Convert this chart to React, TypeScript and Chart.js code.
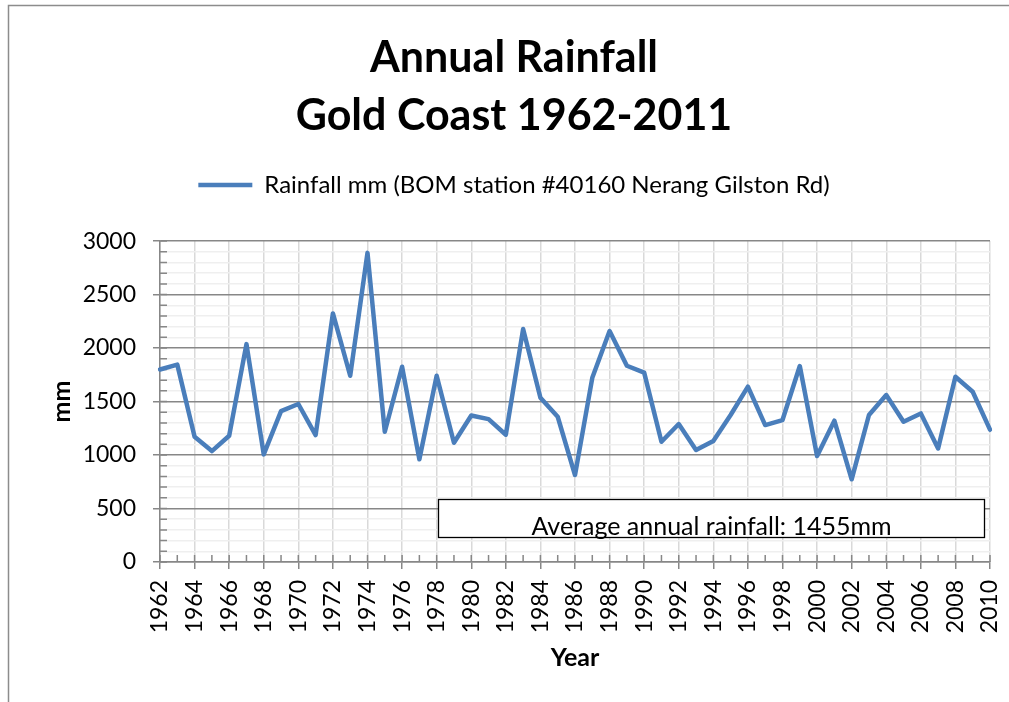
import React, { useEffect, useRef } from 'react';
import { Chart, registerables } from 'chart.js';

Chart.register(...registerables);

const years = [
  '1962', '1963', '1964', '1965', '1966', '1967', '1968', '1969', '1970', '1971',
  '1972', '1973', '1974', '1975', '1976', '1977', '1978', '1979', '1980', '1981',
  '1982', '1983', '1984', '1985', '1986', '1987', '1988', '1989', '1990', '1991',
  '1992', '1993', '1994', '1995', '1996', '1997', '1998', '1999', '2000', '2001',
  '2002', '2003', '2004', '2005', '2006', '2007', '2008', '2009', '2010',
];

const rainfall = [
  1800, 1845, 1170, 1037, 1180, 2037, 1006, 1411, 1477, 1187,
  2324, 1741, 2890, 1218, 1825, 960, 1741, 1115, 1370, 1336,
  1190, 2178, 1536, 1358, 813, 1722, 2159, 1835, 1770, 1124,
  1290, 1047, 1131, 1374, 1639, 1280, 1327, 1832, 991, 1321,
  773, 1374, 1561, 1312, 1389, 1062, 1732, 1592, 1237,
];

const titleLines = ['Annual Rainfall', 'Gold Coast 1962-2011'];
const seriesLabel = 'Rainfall mm (BOM station #40160 Nerang Gilston Rd)';
const averageNote = 'Average annual rainfall: 1455mm';
const yAxisTitle = 'mm';
const xAxisTitle = 'Year';

const FONT = 'Lato';
const LINE = '#4a7ebb';
const AXIS = '#878787';
const VGRID = '#d9d9d9';
const MINOR = '#efefef';

const decorPlugin = {
  id: 'decor',
  beforeDatasetsDraw(chart: any) {
    const { ctx, chartArea: a, scales } = chart;
    ctx.save();
    ctx.strokeStyle = AXIS;
    ctx.lineWidth = 1.5;
    ctx.beginPath();
    scales.y.ticks.forEach((t: any) => {
      const y = scales.y.getPixelForValue(t.value);
      ctx.moveTo(a.left, y);
      ctx.lineTo(a.left + 7, y);
    });
    years.forEach((_, i) => {
      const x = scales.x.getPixelForValue(i);
      ctx.moveTo(x, a.bottom);
      ctx.lineTo(x, a.bottom - 7);
    });
    ctx.stroke();
    ctx.restore();
  },
  afterDraw(chart: any) {
    const { ctx } = chart;
    ctx.save();
    // outer chart frame
    ctx.strokeStyle = '#8c8c8c';
    ctx.lineWidth = 1.5;
    ctx.beginPath();
    ctx.moveTo(8.5, 702);
    ctx.lineTo(8.5, 5.5);
    ctx.lineTo(1009, 5.5);
    ctx.stroke();
    // note text box
    ctx.fillStyle = '#ffffff';
    ctx.fillRect(438, 499, 547, 39);
    ctx.strokeStyle = '#000000';
    ctx.lineWidth = 1.3;
    ctx.strokeRect(438.5, 499.5, 546, 38);
    ctx.fillStyle = '#000000';
    ctx.font = `25px ${FONT}`;
    ctx.textAlign = 'center';
    ctx.textBaseline = 'alphabetic';
    ctx.fillText(averageNote, 711.5, 535);
    ctx.restore();
  },
};

export default function App() {
  const canvasRef = useRef<HTMLCanvasElement | null>(null);

  useEffect(() => {
    const canvas = canvasRef.current;
    if (!canvas) return;
    Chart.defaults.font.family = FONT;
    Chart.defaults.color = '#000000';
    const chart = new Chart(canvas, {
      type: 'line',
      data: {
        labels: years,
        datasets: [
          {
            label: seriesLabel,
            data: rainfall,
            borderColor: LINE,
            backgroundColor: LINE,
            borderWidth: 4.5,
            pointRadius: 0,
            pointHoverRadius: 0,
            tension: 0,
            borderJoinStyle: 'round',
            borderCapStyle: 'round',
          },
        ],
      },
      options: {
        responsive: false,
        animation: false,
        devicePixelRatio: 1,
        layout: { padding: { left: 38, right: 19, top: 0, bottom: 0 } },
        plugins: {
          title: {
            display: true,
            text: titleLines,
            color: '#000000',
            font: { family: FONT, size: 43, weight: 'bold', lineHeight: 1.35 },
            padding: { top: 29, bottom: 0 },
          },
          legend: {
            display: true,
            position: 'top',
            weight: 1600,
            labels: {
              usePointStyle: true,
              pointStyle: 'line',
              pointStyleWidth: 54,
              padding: 28,
              color: '#000000',
              font: { family: FONT, size: 24 },
            },
          },
          subtitle: {
            display: true,
            text: '',
            font: { size: 10, lineHeight: 1 },
            padding: { top: 24, bottom: 0 },
          },
          tooltip: { enabled: false },
        },
        scales: {
          x: {
            type: 'category',
            offset: false,
            afterFit: (scale: any) => {
              scale.height = 140;
              scale.paddingLeft = 0;
              scale.paddingRight = 0;
            },
            border: { display: true, color: AXIS, width: 1.5 },
            grid: {
              color: (c: any) => (c.index % 2 === 0 ? VGRID : 'rgba(0,0,0,0)'),
              lineWidth: 1.5,
              tickColor: (c: any) => (c.index % 2 === 0 ? AXIS : 'rgba(0,0,0,0)'),
              tickLength: 7,
              drawTicks: true,
            },
            ticks: {
              autoSkip: false,
              minRotation: 90,
              maxRotation: 90,
              padding: 11,
              color: '#000000',
              font: { family: FONT, size: 23 },
              callback: (_v: any, i: number) => (i % 2 === 0 ? years[i] : ''),
            },
            title: {
              display: true,
              text: xAxisTitle,
              color: '#000000',
              font: { family: FONT, size: 25, weight: 'bold', lineHeight: 1.2 },
              padding: { top: 0, bottom: 29 },
            },
          },
          y: {
            type: 'linear',
            min: 0,
            max: 3000,
            afterFit: (scale: any) => {
              scale.width = 122;
            },
            border: { display: true, color: AXIS, width: 1.5 },
            grid: {
              color: (c: any) => (c.tick && c.tick.value % 500 === 0 ? AXIS : MINOR),
              lineWidth: 1.5,
              tickColor: (c: any) => (c.tick && c.tick.value % 500 === 0 ? AXIS : 'rgba(0,0,0,0)'),
              tickLength: 7,
              drawTicks: true,
            },
            ticks: {
              stepSize: 100,
              autoSkip: false,
              padding: 17,
              color: '#000000',
              font: { family: FONT, size: 23 },
              callback: (v: any) => (Number(v) % 500 === 0 ? String(v) : ''),
            },
            title: {
              display: true,
              text: yAxisTitle,
              color: '#000000',
              font: { family: FONT, size: 25, weight: 'bold', lineHeight: 1.2 },
              padding: { top: 9, bottom: 0 },
            },
          },
        },
      },
      plugins: [decorPlugin],
    } as any);
    return () => chart.destroy();
  }, []);

  return (
    <div style={{ position: 'absolute', left: 0, top: 0, width: 1009, height: 702, overflow: 'hidden', background: '#ffffff' }}>
      <canvas ref={canvasRef} width={1009} height={702} style={{ display: 'block', width: 1009, height: 702 }} />
    </div>
  );
}
